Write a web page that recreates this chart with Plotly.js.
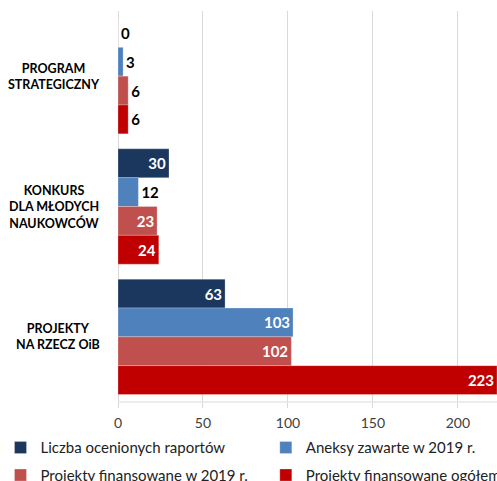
<!DOCTYPE html>
<html>
<head>
<meta charset="utf-8">
<script src="https://cdn.plot.ly/plotly-3.0.1.min.js"></script>
<style>
  html, body { margin: 0; padding: 0; background: #fff; }
  #chart { width: 497px; height: 481px; }
</style>
</head>
<body>
<div id="chart"></div>
<script>
// categories (top to bottom)
var categories = ["PROGRAM STRATEGICZNY", "KONKURS DLA MŁODYCH NAUKOWCÓW", "PROJEKTY NA RZECZ OiB"];
var categoryLabels = ["PROGRAM<br>STRATEGICZNY", "KONKURS<br>DLA MŁODYCH<br>NAUKOWCÓW", "PROJEKTY<br>NA RZECZ OiB"];

// series
var seriesNames = ["Liczba ocenionych raportów", "Aneksy zawarte w 2019 r.", "Projekty finansowane w 2019 r.", "Projekty finansowane ogółem"];
var raporty = [0, 30, 63];
var aneksy = [3, 12, 103];
var finans2019 = [6, 23, 102];
var finansOgolem = [6, 24, 223];

var colors = ["#1B375E", "#4F81BD", "#C0504D", "#C00000"];
var allValues = [raporty, aneksy, finans2019, finansOgolem];

// legend in two columns: left column = traces 0,2, right column = traces 1,3
var data = allValues.map(function (vals, i) {
  return {
    type: "bar",
    orientation: "h",
    name: seriesNames[i],
    legend: i % 2 === 0 ? "legend" : "legend2",
    legendgroup: "g" + i,
    y: categories,
    x: vals,
    text: vals.map(String),
    textposition: vals.map(function (v) { return v >= 20 ? "inside" : "outside"; }),
    insidetextanchor: "end",
    insidetextfont: { color: "#ffffff", size: 15, family: "Lato", weight: "bold" },
    outsidetextfont: { color: "#000000", size: 15, family: "Lato", weight: "bold" },
    textangle: 0,
    constraintext: "none",
    cliponaxis: false,
    marker: { color: colors[i], line: { color: "rgba(255,255,255,0.5)", width: 0.5 } },
    hoverinfo: "x+name"
  };
});

// category labels: block right-aligned next to the axis, lines centred
var annotations = categories.map(function (c, i) {
  return {
    x: -0.042, xref: "paper",
    y: c, yref: "y",
    text: categoryLabels[i],
    showarrow: false,
    xanchor: "right",
    yanchor: "middle",
    align: "center",
    font: { family: "Lato", size: 12.5, color: "#000", weight: "bold" }
  };
});

function legendAt(x) {
  return {
    orientation: "v",
    x: x, xref: "paper",
    y: -0.075, yref: "paper",
    xanchor: "left", yanchor: "top",
    traceorder: "grouped",
    tracegroupgap: 5,
    font: { family: "Lato", size: 15, color: "#222" },
    itemwidth: 30,
    bgcolor: "rgba(0,0,0,0)"
  };
}

var layout = {
  width: 497,
  height: 481,
  margin: { l: 118, r: 0, t: 11, b: 79, autoexpand: false },
  paper_bgcolor: "#ffffff",
  plot_bgcolor: "#ffffff",
  barmode: "group",
  bargap: 0.115,
  bargroupgap: 0,
  showlegend: true,
  legend: legendAt(-0.31),
  legend2: legendAt(0.39),
  xaxis: {
    range: [0, 223],
    tickvals: [0, 50, 100, 150, 200],
    showgrid: true,
    gridcolor: "#d9d9d9",
    gridwidth: 1,
    zeroline: true,
    zerolinecolor: "#d9d9d9",
    showline: false,
    ticks: "outside",
    ticklen: 5,
    tickcolor: "#d9d9d9",
    ticklabelstandoff: 3,
    tickfont: { family: "Lato", size: 14, color: "#404040" },
    fixedrange: true
  },
  yaxis: {
    autorange: "reversed",
    showticklabels: false,
    showgrid: false,
    zeroline: false,
    showline: false,
    ticks: "",
    fixedrange: true
  },
  shapes: [{
    type: "line", xref: "paper", yref: "paper",
    x0: 0, x1: 1, y0: 0, y1: 0,
    line: { color: "#d9d9d9", width: 1 }
  }],
  annotations: annotations
};

Plotly.newPlot("chart", data, layout, { displayModeBar: false, staticPlot: true });
</script>
</body>
</html>
